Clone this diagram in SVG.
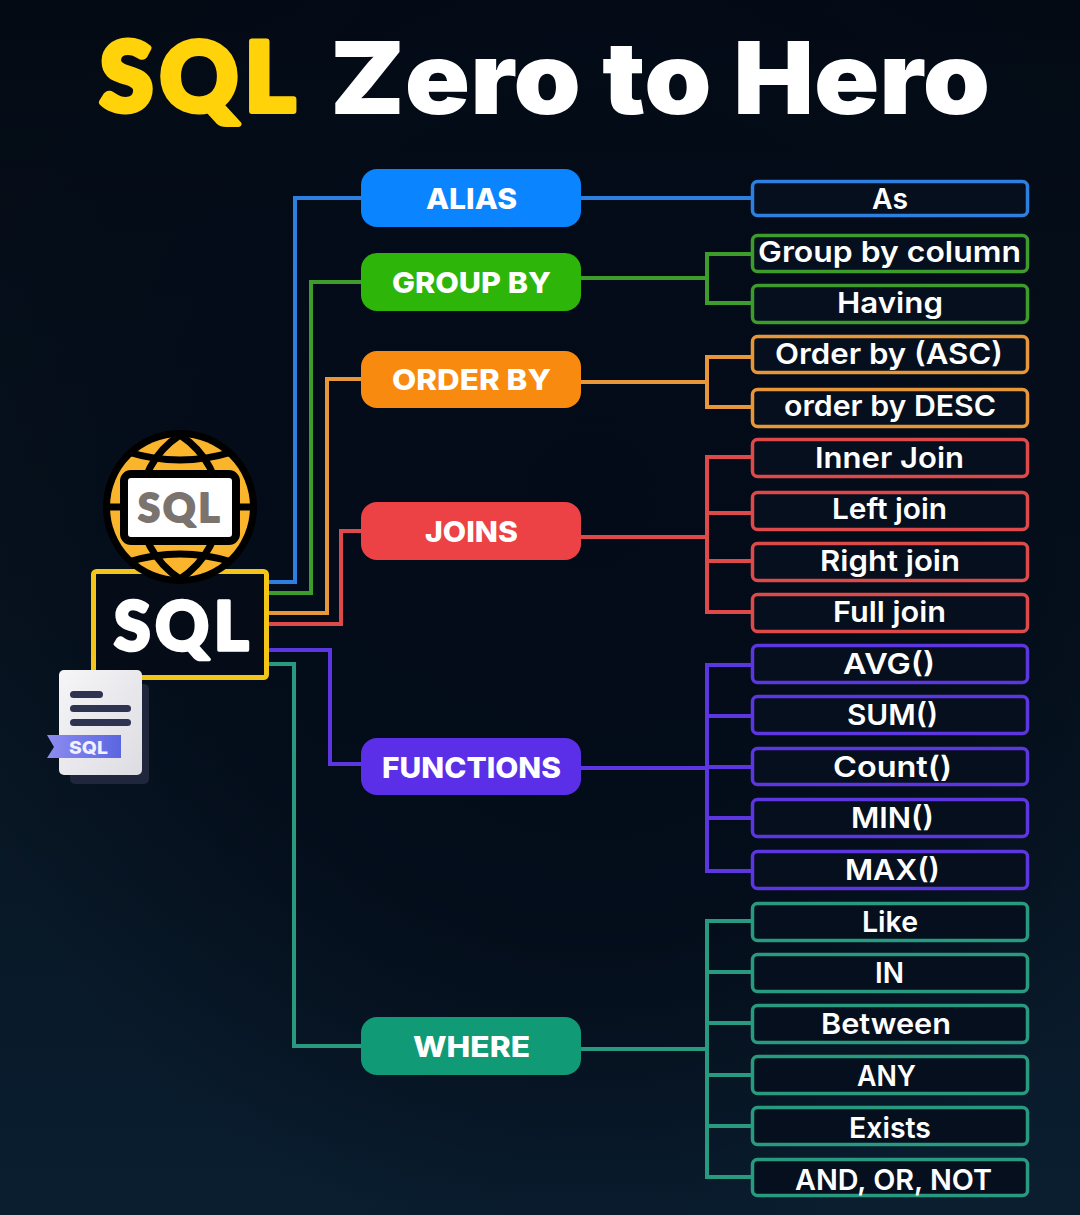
<svg xmlns="http://www.w3.org/2000/svg" width="1080" height="1215" viewBox="0 0 1080 1215">
<defs>
<linearGradient id="bg0" x1="0" y1="0" x2="0" y2="1"><stop offset="0" stop-color="#040a14"/><stop offset="0.5" stop-color="#07131f"/><stop offset="1" stop-color="#0a1e30"/></linearGradient>
<radialGradient id="bg" cx="0.55" cy="0.42" r="0.62"><stop offset="0" stop-color="#030b18" stop-opacity="1"/><stop offset="0.55" stop-color="#030b18" stop-opacity="0.85"/><stop offset="1" stop-color="#030b18" stop-opacity="0"/></radialGradient>
<linearGradient id="paper" x1="0" y1="0" x2="1" y2="1"><stop offset="0" stop-color="#f6f6f8"/><stop offset="1" stop-color="#dcdce2"/></linearGradient>
<linearGradient id="rib" x1="0" y1="0" x2="1" y2="0"><stop offset="0" stop-color="#8d8cf0"/><stop offset="1" stop-color="#5a66e0"/></linearGradient>
</defs>
<style>
text{font-family:Inter,"Open Sans","Liberation Sans",sans-serif;fill:#fff;text-anchor:start}
.t{font-size:100px;font-weight:900}
.s{font-family:Lato,"Open Sans",sans-serif;font-weight:900}
.p{font-size:29px;font-weight:800}
.l{font-size:29px;font-weight:600}
.c path{fill:none;stroke-width:4;stroke-linejoin:miter}
.leaf rect{fill:#050f1e;stroke-width:3.5}
.blue{stroke:#2d7fe0}.green{stroke:#3d9c2c}.orange{stroke:#e8963a}.red{stroke:#de4a4a}.purple{stroke:#5c36e0}.teal{stroke:#279a80}
</style>
<rect width="1080" height="1215" fill="url(#bg0)"/>
<rect width="1080" height="1215" fill="url(#bg)"/>
<g id="title"><text class="s" x="100" y="111" font-size="96" style="fill:#ffd20a;stroke:#ffd20a;stroke-width:6;stroke-linejoin:round;letter-spacing:7px">SQL</text><text class="t" x="330" y="114" textLength="660" lengthAdjust="spacingAndGlyphs">Zero to Hero</text></g>
<g id="connectors" class="c">
<path class="blue" d="M268 582H295V198H361M581 198H752"/>
<path class="green" d="M268 593H311V282H361M581 278H707M752 254H707V303H752"/>
<path class="orange" d="M268 613H327V379H361M581 382H707M752 357H707V407H752"/>
<path class="red" d="M268 624H341V531H361M581 537H707M752 457H707V612H752M707 513H752M707 561H752"/>
<path class="purple" d="M268 650H330V764H361M581 768H707M752 665H707V871H752M707 716H752M707 767H752M707 818H752"/>
<path class="teal" d="M268 664H294V1046H361M581 1049H707M752 921H707V1177H752M707 972H752M707 1023H752M707 1075H752M707 1126H752"/>
</g>
<g id="sql-box"><rect x="93.500" y="571.500" width="173" height="106" rx="3" fill="#050c18" stroke="#f2c518" stroke-width="5"/><text class="s" x="114" y="650" font-size="66" style="stroke:#fff;stroke-width:3.500;stroke-linejoin:round;letter-spacing:5px">SQL</text></g>
<g id="globe">
<circle cx="180" cy="507" r="77" fill="#000"/><circle cx="180" cy="507" r="70" fill="#fbb52c"/>
<g fill="none" stroke="#000" stroke-width="7"><path d="M180 435C127 470 127 544 180 579C233 544 233 470 180 435Z"/><path d="M128 452Q180 468 232 452M128 562Q180 546 232 562M104 507H256"/></g>
<rect x="124" y="474" width="112" height="67" rx="7" fill="#fff" stroke="#000" stroke-width="8"/>
<text class="s" x="138" y="522" font-size="40" style="fill:#7b746e;stroke:#7b746e;stroke-width:2;stroke-linejoin:round;letter-spacing:3px">SQL</text>
</g>
<g id="document">
<rect x="70" y="684" width="79" height="100" rx="5" fill="#20263c"/>
<rect x="59" y="670" width="83" height="105" rx="5" fill="url(#paper)"/>
<g fill="#2f3352"><rect x="70" y="691" width="33" height="7" rx="3.500"/><rect x="70" y="705" width="61" height="7" rx="3.500"/><rect x="70" y="719" width="61" height="7" rx="3.500"/></g>
<path d="M47 735H121V758H47L54 747Z" fill="url(#rib)"/>
<text x="69" y="754" font-size="18" font-weight="800" textLength="39" lengthAdjust="spacingAndGlyphs" style="fill:#f0f0ff">SQL</text>
</g>
<g id="pills">
<g id="alias"><rect x="361" y="169" width="220" height="58" rx="16" fill="#0a84ff"/><text class="p" x="426" y="209" textLength="91" lengthAdjust="spacingAndGlyphs">ALIAS</text></g>
<g id="groupby"><rect x="361" y="253" width="220" height="58" rx="16" fill="#2db50a"/><text class="p" x="392" y="293" textLength="159" lengthAdjust="spacingAndGlyphs">GROUP BY</text></g>
<g id="orderby"><rect x="361" y="351" width="220" height="57" rx="16" fill="#f98a10"/><text class="p" x="392" y="390" textLength="159" lengthAdjust="spacingAndGlyphs">ORDER BY</text></g>
<g id="joins"><rect x="361" y="502" width="220" height="58" rx="16" fill="#ec4245"/><text class="p" x="425" y="542" textLength="93" lengthAdjust="spacingAndGlyphs">JOINS</text></g>
<g id="functions"><rect x="361" y="738" width="220" height="57" rx="16" fill="#5b2fe8"/><text class="p" x="382" y="778" textLength="179" lengthAdjust="spacingAndGlyphs">FUNCTIONS</text></g>
<g id="where"><rect x="361" y="1017" width="220" height="58" rx="16" fill="#109a75"/><text class="p" x="413" y="1057" textLength="117" lengthAdjust="spacingAndGlyphs">WHERE</text></g>
</g>
<g id="leaves" class="leaf">
<g id="l1"><rect class="blue" x="752.500" y="181.500" width="275" height="34" rx="5"/><text class="l" x="872" y="209" textLength="36" lengthAdjust="spacingAndGlyphs">As</text></g>
<g id="l2"><rect class="green" x="752.500" y="235.500" width="275" height="36" rx="5"/><text class="l" x="758" y="262" textLength="263" lengthAdjust="spacingAndGlyphs">Group by column</text></g>
<g id="l3"><rect class="green" x="752.500" y="285.500" width="275" height="37" rx="5"/><text class="l" x="837" y="313" textLength="106" lengthAdjust="spacingAndGlyphs">Having</text></g>
<g id="l4"><rect class="orange" x="752.500" y="336.500" width="275" height="36" rx="5"/><text class="l" x="775" y="364" textLength="228" lengthAdjust="spacingAndGlyphs">Order by (ASC)</text></g>
<g id="l5"><rect class="orange" x="752.500" y="389.500" width="275" height="37" rx="5"/><text class="l" x="784" y="416" textLength="212" lengthAdjust="spacingAndGlyphs">order by DESC</text></g>
<g id="l6"><rect class="red" x="752.500" y="439.500" width="275" height="37" rx="5"/><text class="l" x="815" y="468" textLength="149" lengthAdjust="spacingAndGlyphs">Inner Join</text></g>
<g id="l7"><rect class="red" x="752.500" y="492.500" width="275" height="37" rx="5"/><text class="l" x="832" y="519" textLength="115" lengthAdjust="spacingAndGlyphs">Left join</text></g>
<g id="l8"><rect class="red" x="752.500" y="543.500" width="275" height="37" rx="5"/><text class="l" x="820" y="571" textLength="140" lengthAdjust="spacingAndGlyphs">Right join</text></g>
<g id="l9"><rect class="red" x="752.500" y="594.500" width="275" height="37" rx="5"/><text class="l" x="833" y="622" textLength="113" lengthAdjust="spacingAndGlyphs">Full join</text></g>
<g id="l10"><rect class="purple" x="752.500" y="645.500" width="275" height="37" rx="5"/><text class="l" x="843" y="674" textLength="92" lengthAdjust="spacingAndGlyphs">AVG()</text></g>
<g id="l11"><rect class="purple" x="752.500" y="696.500" width="275" height="37" rx="5"/><text class="l" x="847" y="725" textLength="91" lengthAdjust="spacingAndGlyphs">SUM()</text></g>
<g id="l12"><rect class="purple" x="752.500" y="748.500" width="275" height="36" rx="5"/><text class="l" x="833" y="777" textLength="119" lengthAdjust="spacingAndGlyphs">Count()</text></g>
<g id="l13"><rect class="purple" x="752.500" y="799.500" width="275" height="37" rx="5"/><text class="l" x="851" y="828" textLength="83" lengthAdjust="spacingAndGlyphs">MIN()</text></g>
<g id="l14"><rect class="purple" x="752.500" y="851.500" width="275" height="37" rx="5"/><text class="l" x="845" y="880" textLength="95" lengthAdjust="spacingAndGlyphs">MAX()</text></g>
<g id="l15"><rect class="teal" x="752.500" y="903.500" width="275" height="37" rx="5"/><text class="l" x="862" y="932" textLength="56" lengthAdjust="spacingAndGlyphs">Like</text></g>
<g id="l16"><rect class="teal" x="752.500" y="954.500" width="275" height="37" rx="5"/><text class="l" x="875" y="983" textLength="29" lengthAdjust="spacingAndGlyphs">IN</text></g>
<g id="l17"><rect class="teal" x="752.500" y="1005.500" width="275" height="37" rx="5"/><text class="l" x="821" y="1034" textLength="130" lengthAdjust="spacingAndGlyphs">Between</text></g>
<g id="l18"><rect class="teal" x="752.500" y="1056.500" width="275" height="37" rx="5"/><text class="l" x="857" y="1086" textLength="59" lengthAdjust="spacingAndGlyphs">ANY</text></g>
<g id="l19"><rect class="teal" x="752.500" y="1107.500" width="275" height="37" rx="5"/><text class="l" x="849" y="1138" textLength="82" lengthAdjust="spacingAndGlyphs">Exists</text></g>
<g id="l20"><rect class="teal" x="752.500" y="1159.500" width="275" height="36" rx="5"/><text class="l" x="795" y="1190" textLength="197" lengthAdjust="spacingAndGlyphs">AND, OR, NOT</text></g>
</g>
</svg>
